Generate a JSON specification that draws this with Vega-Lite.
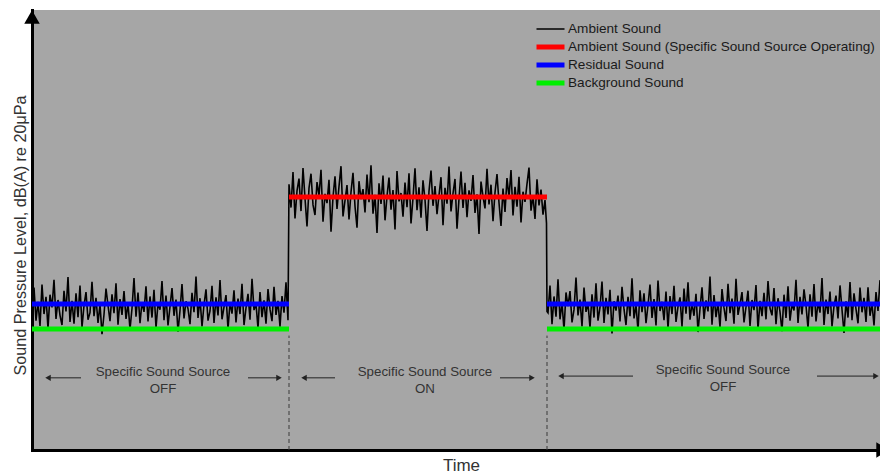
{
  "$schema": "https://vega.github.io/schema/vega-lite/v6.json",
  "autosize": {"type": "none"},
  "padding": {"left": 32, "top": 10, "right": 0, "bottom": 23},
  "width": 848,
  "height": 440,
  "background": "white",
  "config": {
    "view": {"fill": "#a6a6a6", "stroke": null},
    "axis": {"grid": false, "ticks": false, "labels": false, "domainColor": "#000000", "domainWidth": 3, "domainCap": "square", "titleFont": "Liberation Sans", "titleFontWeight": "normal", "titleColor": "#333333"}
  },
  "datasets": {
    "noise": [
      {"t":0,"v":31.8},{"t":2,"v":36.9},{"t":4,"v":29.4},{"t":6,"v":33.7},{"t":8,"v":28.2},{"t":10,"v":37.6},{"t":12,"v":30.9},{"t":14,"v":34.8},{"t":16,"v":27.6},{"t":18,"v":35.3},
      {"t":20,"v":32.4},{"t":22,"v":38.7},{"t":24,"v":29.8},{"t":26,"v":34.1},{"t":28,"v":30.6},{"t":30,"v":28.4},{"t":32,"v":36.2},{"t":34,"v":31.5},{"t":36,"v":39.3},{"t":38,"v":29.1},
      {"t":40,"v":33.9},{"t":42,"v":28.7},{"t":44,"v":35.6},{"t":46,"v":30.2},{"t":48,"v":37.4},{"t":50,"v":27.9},{"t":52,"v":32.8},{"t":54,"v":35.9},{"t":56,"v":29.6},{"t":58,"v":31.2},
      {"t":60,"v":38.2},{"t":62,"v":30.4},{"t":64,"v":34.6},{"t":66,"v":28.9},{"t":68,"v":33.1},{"t":70,"v":26.3},{"t":72,"v":30.8},{"t":74,"v":36.7},{"t":76,"v":32.9},{"t":78,"v":29.3},
      {"t":80,"v":35.4},{"t":82,"v":31.1},{"t":84,"v":37.9},{"t":86,"v":28.5},{"t":88,"v":34.3},{"t":90,"v":30.7},{"t":92,"v":36.1},{"t":94,"v":29.8},{"t":96,"v":33.4},{"t":98,"v":27.4},
      {"t":100,"v":32.2},{"t":102,"v":39.1},{"t":104,"v":30.3},{"t":106,"v":35.8},{"t":108,"v":28.8},{"t":110,"v":33.6},{"t":112,"v":31.4},{"t":114,"v":37.2},{"t":116,"v":29.2},{"t":118,"v":34.9},
      {"t":120,"v":30.1},{"t":122,"v":36.4},{"t":124,"v":27.8},{"t":126,"v":33.3},{"t":128,"v":31.9},{"t":130,"v":38.4},{"t":132,"v":29.5},{"t":134,"v":35.1},{"t":136,"v":28.3},{"t":138,"v":32.6},
      {"t":140,"v":36.8},{"t":142,"v":30.5},{"t":144,"v":34.2},{"t":146,"v":26.9},{"t":148,"v":31.7},{"t":150,"v":37.7},{"t":152,"v":29.9},{"t":154,"v":33.8},{"t":156,"v":32.1},{"t":158,"v":28.6},
      {"t":160,"v":35.7},{"t":162,"v":31.3},{"t":164,"v":39.4},{"t":166,"v":30.0},{"t":168,"v":34.5},{"t":170,"v":28.1},{"t":172,"v":33.0},{"t":174,"v":36.5},{"t":176,"v":29.4},{"t":178,"v":31.6},
      {"t":180,"v":37.3},{"t":182,"v":28.9},{"t":184,"v":34.7},{"t":186,"v":30.6},{"t":188,"v":38.6},{"t":190,"v":29.7},{"t":192,"v":32.5},{"t":194,"v":35.2},{"t":196,"v":27.5},{"t":198,"v":33.5},
      {"t":200,"v":31.0},{"t":202,"v":36.3},{"t":204,"v":29.0},{"t":206,"v":34.4},{"t":208,"v":30.9},{"t":210,"v":37.8},{"t":212,"v":28.4},{"t":214,"v":32.3},{"t":216,"v":35.5},{"t":218,"v":29.6},
      {"t":220,"v":38.9},{"t":222,"v":31.8},{"t":224,"v":33.2},{"t":226,"v":27.7},{"t":228,"v":35.9},{"t":230,"v":30.2},{"t":232,"v":34.0},{"t":234,"v":28.7},{"t":236,"v":36.6},{"t":238,"v":32.0},
      {"t":240,"v":29.3},{"t":242,"v":37.1},{"t":244,"v":30.7},{"t":246,"v":33.9},{"t":248,"v":28.0},{"t":250,"v":35.0},{"t":252,"v":31.2},{"t":254,"v":38.1},{"t":256,"v":29.5},
      {"t":257,"v":60.4},{"t":259,"v":55.1},{"t":261,"v":63.2},{"t":263,"v":52.6},{"t":265,"v":58.9},{"t":267,"v":61.7},{"t":269,"v":54.3},{"t":271,"v":64.1},{"t":273,"v":57.2},{"t":275,"v":50.8},
      {"t":277,"v":59.5},{"t":279,"v":62.8},{"t":281,"v":55.7},{"t":283,"v":53.4},{"t":285,"v":60.9},{"t":287,"v":57.8},{"t":289,"v":63.7},{"t":291,"v":51.9},{"t":293,"v":58.2},{"t":295,"v":56.1},
      {"t":297,"v":61.4},{"t":299,"v":49.6},{"t":301,"v":57.5},{"t":303,"v":62.2},{"t":305,"v":54.8},{"t":307,"v":59.9},{"t":309,"v":64.5},{"t":311,"v":53.1},{"t":313,"v":56.7},{"t":315,"v":60.2},
      {"t":317,"v":52.4},{"t":319,"v":58.6},{"t":321,"v":63.0},{"t":323,"v":55.4},{"t":325,"v":50.5},{"t":327,"v":61.1},{"t":329,"v":57.0},{"t":331,"v":59.3},{"t":333,"v":54.0},{"t":335,"v":62.6},
      {"t":337,"v":56.3},{"t":339,"v":64.7},{"t":341,"v":53.7},{"t":343,"v":58.0},{"t":345,"v":49.3},{"t":347,"v":60.6},{"t":349,"v":55.9},{"t":351,"v":62.4},{"t":353,"v":52.2},{"t":355,"v":57.7},
      {"t":357,"v":61.9},{"t":359,"v":54.6},{"t":361,"v":59.1},{"t":363,"v":50.1},{"t":365,"v":63.4},{"t":367,"v":56.5},{"t":369,"v":58.4},{"t":371,"v":53.0},{"t":373,"v":60.8},{"t":375,"v":55.2},
      {"t":377,"v":62.9},{"t":379,"v":51.5},{"t":381,"v":57.3},{"t":383,"v":64.0},{"t":385,"v":54.5},{"t":387,"v":59.7},{"t":389,"v":52.8},{"t":391,"v":61.3},{"t":393,"v":56.9},{"t":395,"v":49.8},
      {"t":397,"v":58.8},{"t":399,"v":63.5},{"t":401,"v":55.5},{"t":403,"v":60.0},{"t":405,"v":53.6},{"t":407,"v":57.9},{"t":409,"v":62.0},{"t":411,"v":51.1},{"t":413,"v":59.6},{"t":415,"v":56.0},
      {"t":417,"v":64.4},{"t":419,"v":54.2},{"t":421,"v":58.3},{"t":423,"v":61.6},{"t":425,"v":50.3},{"t":427,"v":57.1},{"t":429,"v":63.3},{"t":431,"v":55.0},{"t":433,"v":60.7},{"t":435,"v":52.9},
      {"t":437,"v":59.0},{"t":439,"v":56.6},{"t":441,"v":62.5},{"t":443,"v":53.9},{"t":445,"v":58.1},{"t":447,"v":49.1},{"t":449,"v":61.0},{"t":451,"v":57.6},{"t":453,"v":54.9},{"t":455,"v":63.9},
      {"t":457,"v":55.8},{"t":459,"v":60.3},{"t":461,"v":52.0},{"t":463,"v":58.5},{"t":465,"v":62.7},{"t":467,"v":56.2},{"t":469,"v":50.9},{"t":471,"v":59.4},{"t":473,"v":54.1},{"t":475,"v":61.8},
      {"t":477,"v":57.4},{"t":479,"v":63.6},{"t":481,"v":53.3},{"t":483,"v":59.8},{"t":485,"v":55.3},{"t":487,"v":62.1},{"t":489,"v":51.7},{"t":491,"v":58.7},{"t":493,"v":56.4},{"t":495,"v":60.5},
      {"t":497,"v":64.2},{"t":499,"v":54.4},{"t":501,"v":57.8},{"t":503,"v":52.5},{"t":505,"v":61.5},{"t":507,"v":55.6},{"t":509,"v":59.2},{"t":511,"v":53.5},{"t":513,"v":56.8},{"t":514.5,"v":51.5},
      {"t":515,"v":31.5},
      {"t":516,"v":31.2},{"t":518,"v":37.4},{"t":520,"v":28.6},{"t":522,"v":34.9},{"t":524,"v":30.3},{"t":526,"v":38.8},{"t":528,"v":29.7},{"t":530,"v":33.5},{"t":532,"v":27.3},{"t":534,"v":35.8},
      {"t":536,"v":32.7},{"t":538,"v":36.1},{"t":540,"v":29.0},{"t":542,"v":31.9},{"t":544,"v":39.2},{"t":546,"v":30.6},{"t":548,"v":34.2},{"t":550,"v":28.1},{"t":552,"v":36.9},{"t":554,"v":31.4},
      {"t":556,"v":33.3},{"t":558,"v":27.8},{"t":560,"v":35.4},{"t":562,"v":30.1},{"t":564,"v":37.9},{"t":566,"v":29.4},{"t":568,"v":32.4},{"t":570,"v":38.3},{"t":572,"v":28.9},{"t":574,"v":34.6},
      {"t":576,"v":30.8},{"t":578,"v":36.4},{"t":580,"v":26.5},{"t":582,"v":33.8},{"t":584,"v":31.7},{"t":586,"v":35.1},{"t":588,"v":29.2},{"t":590,"v":37.1},{"t":592,"v":32.0},{"t":594,"v":28.4},
      {"t":596,"v":34.8},{"t":598,"v":30.4},{"t":600,"v":39.0},{"t":602,"v":29.9},{"t":604,"v":33.0},{"t":606,"v":27.1},{"t":608,"v":36.3},{"t":610,"v":31.3},{"t":612,"v":35.6},{"t":614,"v":28.8},
      {"t":616,"v":32.9},{"t":618,"v":37.6},{"t":620,"v":30.0},{"t":622,"v":34.3},{"t":624,"v":28.3},{"t":626,"v":38.5},{"t":628,"v":31.6},{"t":630,"v":33.7},{"t":632,"v":29.5},{"t":634,"v":36.0},
      {"t":636,"v":27.6},{"t":638,"v":35.0},{"t":640,"v":30.9},{"t":642,"v":37.3},{"t":644,"v":29.1},{"t":646,"v":32.6},{"t":648,"v":34.7},{"t":650,"v":28.0},{"t":652,"v":36.7},{"t":654,"v":31.0},
      {"t":656,"v":38.1},{"t":658,"v":29.6},{"t":660,"v":33.4},{"t":662,"v":30.5},{"t":664,"v":35.5},{"t":666,"v":26.8},{"t":668,"v":32.1},{"t":670,"v":37.0},{"t":672,"v":29.8},{"t":674,"v":34.0},
      {"t":676,"v":31.5},{"t":678,"v":39.4},{"t":680,"v":28.5},{"t":682,"v":35.2},{"t":684,"v":30.2},{"t":686,"v":33.6},{"t":688,"v":27.9},{"t":690,"v":36.6},{"t":692,"v":32.3},{"t":694,"v":29.3},
      {"t":696,"v":37.8},{"t":698,"v":31.1},{"t":700,"v":34.4},{"t":702,"v":28.7},{"t":704,"v":38.9},{"t":706,"v":30.7},{"t":708,"v":33.1},{"t":710,"v":35.9},{"t":712,"v":29.0},{"t":714,"v":32.5},
      {"t":716,"v":36.2},{"t":718,"v":28.2},{"t":720,"v":34.1},{"t":722,"v":31.8},{"t":724,"v":37.5},{"t":726,"v":27.4},{"t":728,"v":33.9},{"t":730,"v":30.4},{"t":732,"v":35.7},{"t":734,"v":29.7},
      {"t":736,"v":38.4},{"t":738,"v":32.2},{"t":740,"v":30.6},{"t":742,"v":36.8},{"t":744,"v":28.6},{"t":746,"v":34.5},{"t":748,"v":31.4},{"t":750,"v":27.0},{"t":752,"v":35.3},{"t":754,"v":30.0},
      {"t":756,"v":37.2},{"t":758,"v":29.4},{"t":760,"v":33.2},{"t":762,"v":31.7},{"t":764,"v":38.7},{"t":766,"v":28.9},{"t":768,"v":34.8},{"t":770,"v":30.8},{"t":772,"v":36.5},{"t":774,"v":32.8},
      {"t":776,"v":27.7},{"t":778,"v":35.4},{"t":780,"v":30.3},{"t":782,"v":37.7},{"t":784,"v":29.2},{"t":786,"v":33.6},{"t":788,"v":31.2},{"t":790,"v":39.1},{"t":792,"v":28.4},{"t":794,"v":34.2},
      {"t":796,"v":30.9},{"t":798,"v":36.0},{"t":800,"v":28.1},{"t":802,"v":32.7},{"t":804,"v":35.1},{"t":806,"v":29.9},{"t":808,"v":37.4},{"t":810,"v":31.9},{"t":812,"v":26.6},{"t":814,"v":33.8},
      {"t":816,"v":30.1},{"t":818,"v":38.2},{"t":820,"v":29.5},{"t":822,"v":35.6},{"t":824,"v":32.0},{"t":826,"v":28.8},{"t":828,"v":36.9},{"t":830,"v":31.3},{"t":832,"v":34.6},{"t":834,"v":29.1},
      {"t":836,"v":37.0},{"t":838,"v":30.5},{"t":840,"v":33.3},{"t":842,"v":28.3},{"t":844,"v":35.9},{"t":846,"v":31.6},{"t":848,"v":38.6}
    ],
    "levels": [
      {"series": "Ambient Sound (Specific Sound Source Operating)", "t1": 257, "t2": 515, "v": 57.5},
      {"series": "Residual Sound", "t1": 0, "t2": 257, "v": 33.2},
      {"series": "Residual Sound", "t1": 515, "t2": 848, "v": 33.2},
      {"series": "Background Sound", "t1": 0, "t2": 257, "v": 27.5},
      {"series": "Background Sound", "t1": 515, "t2": 848, "v": 27.5}
    ],
    "switches": [{"t": 257}, {"t": 515}],
    "notes": [
      {"t": 131, "v": 17.7, "label": "Specific Sound Source"},
      {"t": 131, "v": 13.9, "label": "OFF"},
      {"t": 393, "v": 17.7, "label": "Specific Sound Source"},
      {"t": 393, "v": 13.9, "label": "ON"},
      {"t": 691, "v": 18.2, "label": "Specific Sound Source"},
      {"t": 691, "v": 14.3, "label": "OFF"}
    ],
    "arrows": [
      {"from": 49, "to": 16, "v": 16.4, "dir": "left"},
      {"from": 216, "to": 247, "v": 16.4, "dir": "right"},
      {"from": 303, "to": 272, "v": 16.4, "dir": "left"},
      {"from": 468, "to": 500, "v": 16.4, "dir": "right"},
      {"from": 601, "to": 529, "v": 16.8, "dir": "left"},
      {"from": 785, "to": 844, "v": 16.8, "dir": "right"}
    ],
    "axisTips": [{"t": 0, "v": 98.4}],
    "axisEnds": [{"t": 851, "v": 0}]
  },
  "layer": [
    {
      "data": {"name": "noise"},
      "mark": {"type": "line", "color": "#000000", "strokeWidth": 1.6},
      "encoding": {
        "x": {"field": "t", "type": "quantitative", "scale": {"domain": [0, 848], "nice": false, "zero": false}, "axis": {"title": "Time", "titleFontSize": 17, "titlePadding": 7, "titleX": 429}},
        "y": {"field": "v", "type": "quantitative", "scale": {"domain": [0, 100], "nice": false, "zero": false}, "axis": {"title": "Sound Pressure Level, dB(A) re 20μPa", "titleFontSize": 16.2, "titlePadding": 4, "titleY": 225}}
      }
    },
    {
      "data": {"name": "levels"},
      "mark": {"type": "rule"},
      "encoding": {
        "x": {"field": "t1", "type": "quantitative"},
        "x2": {"field": "t2"},
        "y": {"field": "v", "type": "quantitative"},
        "color": {
          "field": "series", "type": "nominal",
          "scale": {"domain": ["Ambient Sound", "Ambient Sound (Specific Sound Source Operating)", "Residual Sound", "Background Sound"], "range": ["#000000", "#ff0000", "#0000ff", "#00ee00"]},
          "legend": {"title": null, "orient": "none", "legendX": 502, "legendY": 10, "symbolType": "stroke", "symbolSize": 784, "labelFont": "Liberation Sans", "labelFontSize": 13.6, "labelColor": "#1a1a1a", "labelOffset": 1, "clipHeight": 17.8, "rowPadding": 0, "padding": 0, "labelLimit": 400}
        },
        "strokeWidth": {
          "field": "series", "type": "nominal",
          "scale": {"type": "ordinal", "domain": ["Ambient Sound", "Ambient Sound (Specific Sound Source Operating)", "Residual Sound", "Background Sound"], "range": [1.5, 5, 5, 5]},
          "legend": {"title": null, "orient": "none", "legendX": 502, "legendY": 10, "symbolType": "stroke", "symbolSize": 784, "labelFont": "Liberation Sans", "labelFontSize": 13.6, "labelColor": "#1a1a1a", "labelOffset": 1, "clipHeight": 17.8, "rowPadding": 0, "padding": 0, "labelLimit": 400}
        }
      }
    },
    {
      "data": {"name": "switches"},
      "mark": {"type": "rule", "color": "#3a3a3a", "strokeWidth": 1, "strokeDash": [4, 3]},
      "encoding": {
        "x": {"field": "t", "type": "quantitative"},
        "y": {"datum": 0, "type": "quantitative"},
        "y2": {"datum": 26}
      }
    },
    {
      "data": {"name": "arrows"},
      "mark": {"type": "rule", "color": "#222222", "strokeWidth": 1},
      "encoding": {
        "x": {"field": "from", "type": "quantitative"},
        "x2": {"field": "to"},
        "y": {"field": "v", "type": "quantitative"}
      }
    },
    {
      "data": {"name": "arrows"},
      "mark": {"type": "point", "filled": true, "color": "#222222", "size": 40, "opacity": 1},
      "encoding": {
        "x": {"field": "to", "type": "quantitative"},
        "y": {"field": "v", "type": "quantitative"},
        "shape": {"field": "dir", "type": "nominal", "scale": {"domain": ["left", "right"], "range": ["triangle-left", "triangle-right"]}, "legend": null}
      }
    },
    {
      "data": {"name": "notes"},
      "mark": {"type": "text", "font": "Liberation Sans", "fontSize": 13.3, "color": "#333333", "align": "center", "baseline": "middle"},
      "encoding": {
        "x": {"field": "t", "type": "quantitative"},
        "y": {"field": "v", "type": "quantitative"},
        "text": {"field": "label"}
      }
    },
    {
      "data": {"name": "axisTips"},
      "mark": {"type": "point", "shape": "triangle-up", "filled": true, "color": "#000000", "size": 240, "opacity": 1},
      "encoding": {
        "x": {"field": "t", "type": "quantitative"},
        "y": {"field": "v", "type": "quantitative"}
      }
    },
    {
      "data": {"name": "axisEnds"},
      "mark": {"type": "point", "shape": "triangle-right", "filled": true, "color": "#000000", "size": 240, "opacity": 1},
      "encoding": {
        "x": {"field": "t", "type": "quantitative"},
        "y": {"field": "v", "type": "quantitative"}
      }
    }
  ]
}
